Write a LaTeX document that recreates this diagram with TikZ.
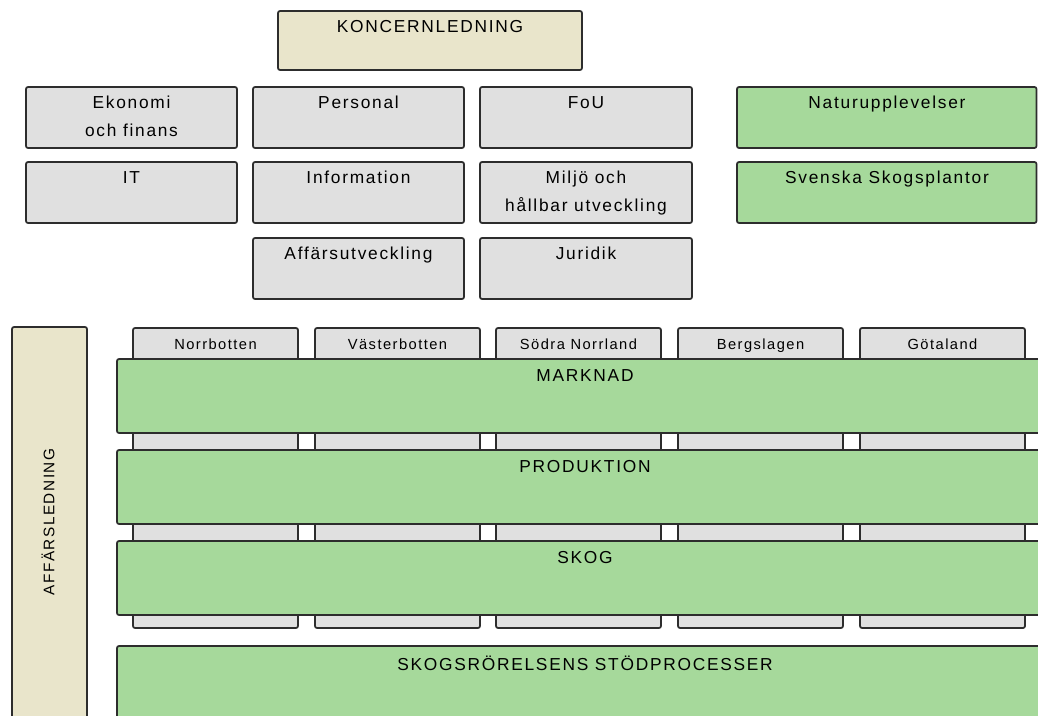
\documentclass[tikz,border=0pt]{standalone}
\usepackage{fontspec}
\setmainfont{Liberation Sans}[LetterSpace=10]
\definecolor{boxline}{RGB}{45,45,45}
\definecolor{boxgrey}{RGB}{224,224,224}
\definecolor{boxgreen}{RGB}{166,217,155}
\definecolor{boxbeige}{RGB}{233,229,203}
\begin{document}
\begin{tikzpicture}[x=0.75pt,y=-0.75pt]
  \tikzstyle{every node}+=[inner sep=0pt]
  \tikzstyle{box}=[draw=boxline, line width=1.3pt, rounded corners=1.5pt]
  \tikzstyle{greybox}=[box, fill=boxgrey]
  \tikzstyle{greenbox}=[box, fill=boxgreen]
  \tikzstyle{beigebox}=[box, fill=boxbeige]
  \tikzstyle{txt}=[anchor=north, align=center, font=\fontsize{13}{21}\selectfont]
  \tikzstyle{tabtxt}=[anchor=north, font=\fontsize{11}{13}\selectfont]
  \path [use as bounding box] (0,0) rectangle (1038,715);
  \clip (0,0) rectangle (1038,715);

  % koncernledning and staff
  \draw [beigebox] (278,11) rectangle (582,70);
  \node [txt] (koncern) at (430,20) {KONCERNLEDNING};

  \draw [greybox] (26,87) rectangle (237,148);
  \node [txt] (ekonomi) at (131.5,96) {Ekonomi\\och finans};
  \draw [greybox] (26,162) rectangle (237,223);
  \node [txt] (it) at (131.5,171) {IT};

  \draw [greybox] (253,87) rectangle (464,148);
  \node [txt] (personal) at (358.5,96) {Personal};
  \draw [greybox] (253,162) rectangle (464,223);
  \node [txt] (information) at (358.5,171) {Information};
  \draw [greybox] (253,238) rectangle (464,299);
  \node [txt] (affutv) at (358.5,247) {Affärsutveckling};

  \draw [greybox] (480,87) rectangle (692,148);
  \node [txt] (fou) at (586,96) {FoU};
  \draw [greybox] (480,162) rectangle (692,223);
  \node [txt] (miljo) at (586,171) {Miljö och\\hållbar utveckling};
  \draw [greybox] (480,238) rectangle (692,299);
  \node [txt] (juridik) at (586,247) {Juridik};

  \draw [greenbox] (737,87) rectangle (1036.5,148);
  \node [txt] (natur) at (887,96) {Naturupplevelser};
  \draw [greenbox] (737,162) rectangle (1036.5,223);
  \node [txt] (plantor) at (887,171) {Svenska Skogsplantor};

  % affarsledning with regions behind the processes
  \draw [beigebox] (12,327) rectangle (87,760);
  \node [rotate=90, font=\fontsize{11.5}{14}\selectfont] (affar) at (48,522) {AFFÄRSLEDNING};

  \foreach \x/\name/\lbl in {133/norrbotten/Norrbotten, 315/vasterbotten/Västerbotten,
      496/sodra/Södra Norrland, 678/bergslagen/Bergslagen, 860/gotaland/Götaland} {
    \draw [greybox] (\x,328) rectangle ++(165,300);
    \node [tabtxt] (\name) at (\x+82.5,339) {\lbl};
  }

  \draw [greenbox] (117,359) rectangle (1053,433);
  \node [txt] (marknad) at (585,369) {MARKNAD};
  \draw [greenbox] (117,450) rectangle (1053,524);
  \node [txt] (produktion) at (585,460) {PRODUKTION};
  \draw [greenbox] (117,541) rectangle (1053,615);
  \node [txt] (skog) at (585,551) {SKOG};
  \draw [greenbox] (117,646) rectangle (1053,760);
  \node [txt] (stod) at (585,656) {SKOGSRÖRELSENS STÖDPROCESSER};
\end{tikzpicture}
\end{document}
